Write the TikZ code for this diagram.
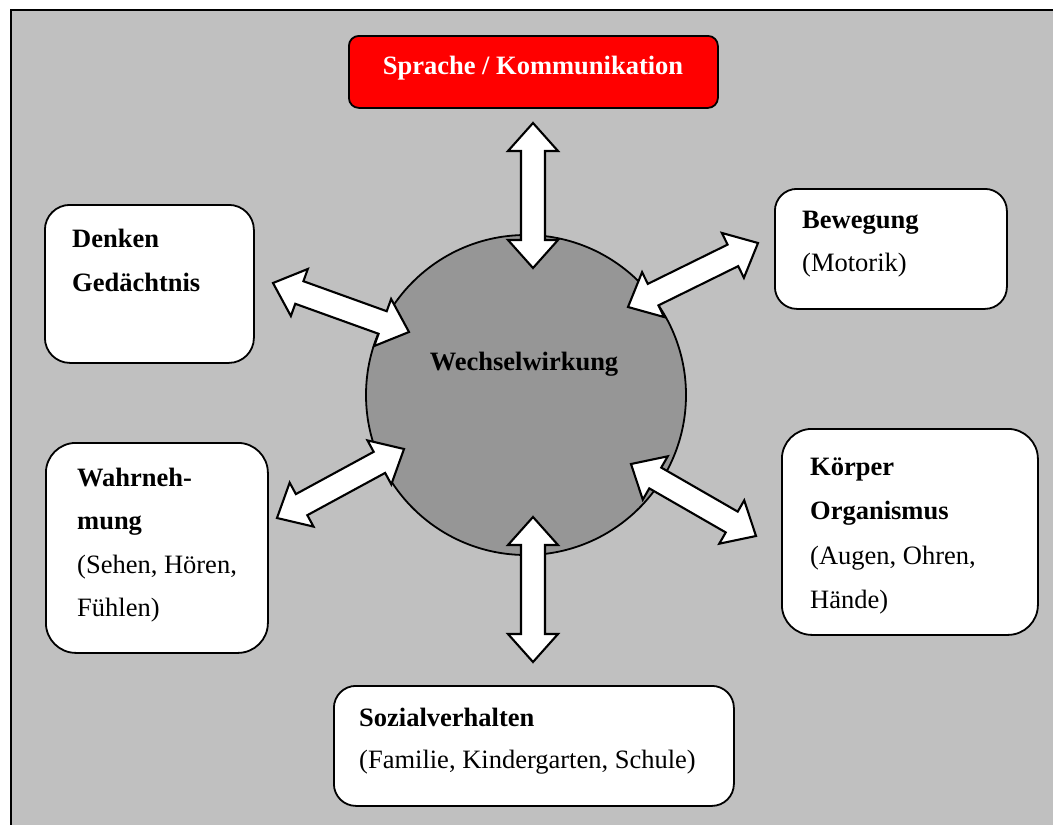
\documentclass[tikz,border=0pt]{standalone}
\usepackage{fontspec}
\setmainfont{Liberation Serif}
\usetikzlibrary{calc}

\definecolor{panel}{RGB}{192,192,192}
\definecolor{disc}{RGB}{150,150,150}
\definecolor{signal}{RGB}{255,0,0}

\tikzset{
  txt/.style={inner sep=0pt, anchor=base west, font=\fontsize{26.5pt}{44pt}\selectfont},
  card/.style={draw=black, line width=1.8pt, fill=white, rounded corners=#1,
               anchor=north west, inner sep=0pt},
  blockarrow/.style={draw=black, fill=white, line width=2.1pt, line join=miter},
}

% double-headed block arrow between two named points
\newcommand\dblarrow[2]{%
  \coordinate (pa) at ($(#1)!28pt!(#2)$);
  \coordinate (pb) at ($(#2)!28pt!(#1)$);
  \draw[blockarrow] (#1)
    -- ($(pa)!25pt!90:(#2)$) -- ($(pa)!12pt!90:(#2)$)
    -- ($(pb)!12pt!-90:(#1)$) -- ($(pb)!25pt!-90:(#1)$)
    -- (#2)
    -- ($(pb)!25pt!90:(#1)$) -- ($(pb)!12pt!90:(#1)$)
    -- ($(pa)!12pt!-90:(#2)$) -- ($(pa)!25pt!-90:(#2)$)
    -- cycle;}

\begin{document}
\begin{tikzpicture}[x=1pt,y=-1pt]
\useasboundingbox (0,0) rectangle (1053,825);

% background panel with frame on the left and top
\fill[panel] (11,10) rectangle (1053,825);
\draw[line width=2.5pt, line cap=rect] (11,825) -- (11,10) -- (1053,10);

% central disc
\node[circle, draw=black, line width=1.8pt, fill=disc, minimum size=320pt, inner sep=0pt]
  (ww) at (526,395) {};
\node[txt, anchor=base, font=\fontsize{26.5pt}{44pt}\selectfont\bfseries] (wwt) at (524,370) {Wechselwirkung};

% top box
\node[draw=black, line width=1.8pt, fill=signal, rounded corners=10pt, anchor=north west,
      minimum width=369pt, minimum height=72pt, inner sep=0pt] (sprache) at (348,35) {};
\node[txt, anchor=base, text=white, font=\fontsize{26.5pt}{44pt}\selectfont\bfseries]
  (spracht) at (533,74) {Sprache / Kommunikation};

% surrounding cards
\node[card=25pt, minimum width=209pt, minimum height=158pt] (denken) at (44,204) {};
\node[txt] (denken1) at (72,247) {\bfseries Denken};
\node[txt] (denken2) at (72,291) {\bfseries Gedächtnis};

\node[card=22pt, minimum width=232pt, minimum height=120pt] (beweg) at (774,188) {};
\node[txt] (beweg1) at (802,228) {\bfseries Bewegung};
\node[txt] (beweg2) at (802,271) {(Motorik)};

\node[card=30pt, minimum width=222pt, minimum height=210pt] (wahr) at (45,442) {};
\node[txt] (wahr1) at (77,486) {\bfseries Wahrneh-};
\node[txt] (wahr2) at (77,529) {\bfseries mung};
\node[txt] (wahr3) at (77,573) {(Sehen, Hören,};
\node[txt] (wahr4) at (77,616) {Fühlen)};

\node[card=30pt, minimum width=256pt, minimum height=206pt] (koerper) at (781,428) {};
\node[txt] (koerper1) at (810,475) {\bfseries Körper};
\node[txt] (koerper2) at (810,519) {\bfseries Organismus};
\node[txt] (koerper3) at (810,564) {(Augen, Ohren,};
\node[txt] (koerper4) at (810,608) {Hände)};

\node[card=22pt, minimum width=400pt, minimum height=120pt] (sozial) at (333,685) {};
\node[txt] (sozial1) at (359,726) {\bfseries Sozialverhalten};
\node[txt] (sozial2) at (359,768) {(Familie, Kindergarten, Schule)};

% arrow end points
\coordinate (n-a) at (533,123);  \coordinate (n-b) at (533,268);
\coordinate (s-a) at (533,517);  \coordinate (s-b) at (533,662);
\coordinate (nw-a) at (273,283); \coordinate (nw-b) at (409,332);
\coordinate (ne-a) at (628,307); \coordinate (ne-b) at (758,243);
\coordinate (sw-a) at (277,518); \coordinate (sw-b) at (404,449);
\coordinate (se-a) at (631,464); \coordinate (se-b) at (756,536);

\dblarrow{n-a}{n-b}
\dblarrow{s-a}{s-b}
\dblarrow{nw-a}{nw-b}
\dblarrow{ne-a}{ne-b}
\dblarrow{sw-a}{sw-b}
\dblarrow{se-a}{se-b}
\end{tikzpicture}
\end{document}
